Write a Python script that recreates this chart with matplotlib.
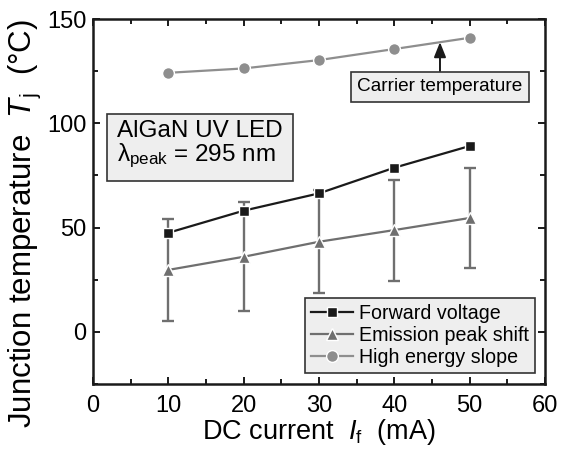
import matplotlib
matplotlib.use("Agg")
import matplotlib.pyplot as plt
from matplotlib.ticker import MultipleLocator

plt.rcParams['font.family'] = ['Liberation Sans', 'DejaVu Sans']
plt.rcParams['mathtext.fontset'] = 'custom'
plt.rcParams['mathtext.rm'] = 'Liberation Sans'
plt.rcParams['mathtext.it'] = 'Liberation Sans:italic'
plt.rcParams['mathtext.bf'] = 'Liberation Sans:bold'

# DC current (mA)
current = [10, 20, 30, 40, 50]
# Junction temperature estimates (deg C)
forward_voltage = [47.5, 58.1, 66.4, 78.7, 89.1]
emission_peak_shift = [29.7, 36.0, 43.2, 48.8, 54.6]
emission_peak_err = [24.6, 26.1, 24.6, 24.2, 23.8]
high_energy_slope = [124.2, 126.3, 130.3, 135.6, 141.0]

legend_labels = ["Forward voltage", "Emission peak shift", "High energy slope"]

fig = plt.figure(figsize=(5.67, 4.55), dpi=100)
ax = fig.add_axes([93 / 567, 1 - 384 / 455, (545 - 93) / 567, (384 - 19) / 455])

c_black = "#1a1a1a"
c_mid = "#6f6f6f"
c_light = "#8e8e8e"

ax.errorbar(current, emission_peak_shift, yerr=emission_peak_err, fmt='none',
            ecolor=c_mid, elinewidth=1.7, capsize=4, capthick=1.7, zorder=1)
ax.plot(current, emission_peak_shift, '-', color=c_mid, lw=1.6, marker='^',
        ms=8.5, mfc=c_mid, mec='white', mew=1.0, zorder=3, label=legend_labels[1])
ax.plot(current, forward_voltage, '-', color=c_black, lw=1.6, marker='s',
        ms=7.5, mfc=c_black, mec='white', mew=1.0, zorder=4, label=legend_labels[0])
ax.plot(current, high_energy_slope, '-', color=c_light, lw=1.6, marker='o',
        ms=8.5, mfc=c_light, mec='white', mew=1.0, zorder=3, label=legend_labels[2])

ax.set_xlim(0, 60)
ax.set_ylim(-25, 150)
ax.xaxis.set_major_locator(MultipleLocator(10))
ax.xaxis.set_minor_locator(MultipleLocator(5))
ax.set_yticks([0, 50, 100, 150])
ax.yaxis.set_minor_locator(MultipleLocator(25))

for s in ax.spines.values():
    s.set_linewidth(1.8)
    s.set_color(c_black)
ax.tick_params(which='both', direction='in', top=True, right=True, width=1.4, color=c_black)
ax.tick_params(which='major', length=5)
ax.tick_params(which='minor', length=3.3)
ax.tick_params(axis='x', which='major', labelsize=17, pad=8)
ax.tick_params(axis='y', which='major', labelsize=17, pad=4.5)

ax.set_xlabel(r"DC current  $I_{\mathrm{f}}$  (mA)", fontsize=19.5)
ax.set_ylabel(r"Junction temperature  $T_{\mathrm{j}}$  (°C)", fontsize=22.5)
ax.xaxis.set_label_coords(0.5, -0.09)
ax.yaxis.set_label_coords(-0.108, 0.441)

handles, labels = ax.get_legend_handles_labels()
order = [1, 0, 2]
leg = ax.legend([handles[i] for i in order], [labels[i] for i in order],
                loc='lower right', bbox_to_anchor=(0.978, 0.030), fontsize=14.1,
                fancybox=False, framealpha=1, facecolor="#eeeeee", edgecolor="#333333",
                handlelength=2.15, handletextpad=0.3, labelspacing=0.17,
                borderpad=0.3, borderaxespad=0.0)
leg.get_frame().set_linewidth(1.2)

ax.text(3.15, 89.5, "AlGaN UV LED\n" + r"λ$_{\mathrm{peak}}$ = 295 nm",
        fontsize=17.5, ha='left', va='center', linespacing=1.0,
        bbox=dict(boxstyle='square,pad=0.42', facecolor="#eeeeee", edgecolor="#333333", lw=1.2))

ax.annotate("", xy=(46.06, 138.9), xytext=(46.06, 125.0),
            arrowprops=dict(arrowstyle='-|>,head_length=0.5,head_width=0.2',
                            color=c_black, lw=1.4, mutation_scale=18, shrinkA=0, shrinkB=0))
ax.text(46.06, 117.4, "Carrier temperature", fontsize=13.7, ha='center', va='center',
        bbox=dict(boxstyle='square,pad=0.32', facecolor="#eeeeee", edgecolor="#333333", lw=1.2))

fig.savefig("out.png", dpi=100)
